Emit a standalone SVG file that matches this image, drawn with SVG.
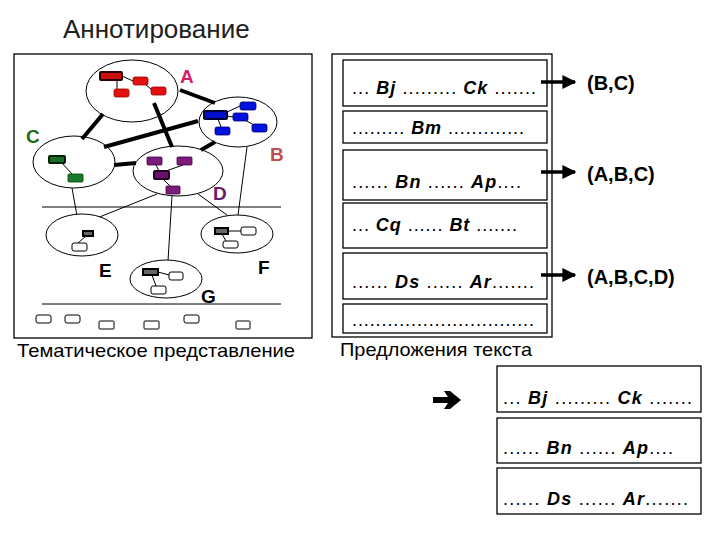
<svg xmlns="http://www.w3.org/2000/svg" width="720" height="540" viewBox="0 0 720 540">
<style>
text{font-family:"Liberation Sans",Arial,sans-serif}
.fr{fill:#fff;stroke:#000;stroke-width:1.3}
.el{fill:#fff;stroke:#000;stroke-width:1}
.thick{stroke:#000;stroke-width:4}
.thin{stroke:#000;stroke-width:1}
.r{fill:#e31010;stroke:#900;stroke-width:0.8}
.rb{fill:#c81010;stroke:#300;stroke-width:2}
.b{fill:#0010e0;stroke:#006;stroke-width:0.8}
.bb{fill:#0010c8;stroke:#003;stroke-width:2}
.g{fill:#1a7a2a;stroke:#040;stroke-width:0.8}
.gb{fill:#1a6a2a;stroke:#020;stroke-width:2}
.p{fill:#7a1a7a;stroke:#404;stroke-width:0.8}
.pb{fill:#6a106a;stroke:#202;stroke-width:2}
.gr{fill:#666;stroke:#000;stroke-width:2}
.w{fill:#fff;stroke:#000;stroke-width:1}
.lbl{font-size:19px;font-weight:bold}
.t{font-size:18px}
.t tspan.i{font-style:italic;font-weight:bold}
.res{font-size:20px;font-weight:bold}
</style>
<defs>
<marker id="ah" markerWidth="4" markerHeight="4" refX="3.6" refY="2" orient="auto" markerUnits="strokeWidth"><path d="M0,0 L4,2 L0,4 z" fill="#000"/></marker>
</defs>
<text x="63" y="38" font-size="26" fill="#202020">Аннотирование</text>

<g id="left-panel">
<rect class="fr" x="14" y="54" width="298" height="284"/>
<line class="thin" x1="42" y1="207" x2="281" y2="207"/>
<line class="thin" x1="42" y1="304" x2="281" y2="304"/>
<text x="17" y="357" font-size="19" textLength="278" lengthAdjust="spacingAndGlyphs">Тематическое представление</text>
</g>

<g id="connectors">
<line class="thin" x1="72" y1="188" x2="77" y2="216"/>
<line class="thin" x1="157" y1="194" x2="97" y2="218"/>
<line class="thin" x1="172" y1="196" x2="168" y2="261"/>
<line class="thin" x1="198" y1="194" x2="227" y2="215"/>
<line class="thin" x1="247" y1="147" x2="238" y2="215"/>
</g>

<g id="node-A"><ellipse class="el" cx="132" cy="91" rx="46" ry="31"/>
<line class="thin" x1="117" y1="80" x2="117" y2="89"/><line class="thin" x1="122" y1="76" x2="133" y2="81"/><line class="thin" x1="146" y1="85" x2="151" y2="89"/>
<rect class="rb" x="100" y="72" width="22" height="8" rx="1"/><rect class="r" x="133" y="77" width="15" height="8" rx="2"/><rect class="r" x="114" y="89" width="15" height="8" rx="2"/><rect class="r" x="151" y="87" width="15" height="8" rx="2"/>
<text class="lbl" x="180" y="83" fill="#d0206b">A</text></g>

<g id="node-B"><ellipse class="el" cx="238" cy="122" rx="39" ry="25"/>
<line class="thin" x1="227" y1="112" x2="240" y2="106"/><line class="thin" x1="227" y1="116" x2="233" y2="117"/><line class="thin" x1="218" y1="119" x2="221" y2="127"/><line class="thin" x1="245" y1="120" x2="254" y2="125"/>
<rect class="b" x="240" y="102" width="16" height="8" rx="2"/><rect class="bb" x="204" y="111" width="23" height="8" rx="1"/><rect class="b" x="233" y="113" width="15" height="8" rx="2"/><rect class="b" x="215" y="127" width="15" height="8" rx="2"/><rect class="b" x="252" y="124" width="15" height="8" rx="2"/>
<text class="lbl" x="270" y="161" fill="#c05050">B</text></g>

<g id="node-C"><ellipse class="el" cx="74" cy="162" rx="41" ry="26"/>
<line class="thin" x1="62" y1="163" x2="72" y2="174"/>
<rect class="gb" x="49" y="156" width="16" height="7" rx="1"/><rect class="g" x="68" y="174" width="15" height="8" rx="1"/>
<text class="lbl" x="26" y="143" fill="#1a6a1a">C</text></g>

<g id="node-D"><ellipse class="el" cx="178" cy="171" rx="45" ry="25"/>
<line class="thin" x1="156" y1="165" x2="159" y2="171"/><line class="thin" x1="183" y1="165" x2="166" y2="171"/><line class="thin" x1="163" y1="179" x2="170" y2="186"/>
<rect class="p" x="147" y="157" width="15" height="8" rx="1"/><rect class="p" x="177" y="157" width="15" height="8" rx="1"/><rect class="pb" x="154" y="171" width="15" height="8" rx="1"/><rect class="p" x="166" y="186" width="14" height="8" rx="1"/>
<text class="lbl" x="213" y="200" fill="#6a1a6a">D</text></g>

<g id="thick-links">
<line class="thick" x1="180" y1="90" x2="215" y2="103"/>
<line class="thick" x1="103" y1="114" x2="82" y2="139"/>
<line class="thick" x1="154" y1="103" x2="172" y2="147"/>
<line class="thick" x1="104" y1="147" x2="198" y2="121"/>
<line class="thick" x1="114" y1="165" x2="136" y2="163"/>
<line class="thick" x1="201" y1="150" x2="215" y2="142"/>
</g>

<g id="node-E"><ellipse class="el" cx="82" cy="235" rx="36" ry="21"/>
<line class="thin" x1="86" y1="236" x2="78" y2="243"/>
<rect class="gr" x="83" y="231" width="10" height="5"/><rect class="w" x="72" y="243" width="15" height="8" rx="2"/>
<text class="lbl" x="99" y="277">E</text></g>

<g id="node-F"><ellipse class="el" cx="237" cy="234" rx="36" ry="19"/>
<line class="thin" x1="228" y1="231" x2="241" y2="231"/><line class="thin" x1="222" y1="234" x2="226" y2="241"/>
<rect class="gr" x="215" y="228" width="13" height="6"/><rect class="w" x="241" y="227" width="15" height="8" rx="2"/><rect class="w" x="223" y="241" width="15" height="7" rx="2"/>
<text class="lbl" x="258" y="274">F</text></g>

<g id="node-G"><ellipse class="el" cx="166" cy="279" rx="36" ry="19"/>
<line class="thin" x1="158" y1="272" x2="169" y2="275"/><line class="thin" x1="152" y1="275" x2="156" y2="286"/>
<rect class="gr" x="143" y="269" width="15" height="6"/><rect class="w" x="169" y="272" width="14" height="8" rx="2"/><rect class="w" x="151" y="286" width="15" height="8" rx="2"/>
<text class="lbl" x="201" y="303">G</text></g>

<g id="free-items">
<rect class="w" x="36" y="315" width="15" height="8" rx="2"/><rect class="w" x="65" y="315" width="15" height="8" rx="2"/><rect class="w" x="99" y="321" width="15" height="8" rx="1"/><rect class="w" x="144" y="321" width="15" height="8" rx="1"/><rect class="w" x="184" y="315" width="15" height="8" rx="2"/><rect class="w" x="236" y="321" width="14" height="8" rx="1"/>
</g>

<g id="right-panel">
<rect class="fr" x="332" y="54" width="220" height="283"/>
<rect class="fr" x="343" y="60" width="204" height="46"/>
<rect class="fr" x="343" y="111" width="204" height="32"/>
<rect class="fr" x="343" y="150" width="204" height="50"/>
<rect class="fr" x="343" y="203" width="204" height="45"/>
<rect class="fr" x="343" y="253" width="204" height="46"/>
<rect class="fr" x="343" y="304" width="204" height="29"/>
<text class="t" x="352" y="94" textLength="184">... <tspan class="i">Bj</tspan> ......... <tspan class="i">Ck</tspan>  .......</text>
<text class="t" x="352" y="134" textLength="172">......... <tspan class="i">Bm</tspan> .............</text>
<text class="t" x="352" y="188" textLength="169">...... <tspan class="i">Bn</tspan>  ...... <tspan class="i">Ap</tspan>....</text>
<text class="t" x="352" y="231" textLength="165">... <tspan class="i">Cq</tspan> ...... <tspan class="i">Bt</tspan> .......</text>
<text class="t" x="352" y="288" textLength="182">...... <tspan class="i">Ds</tspan>  ...... <tspan class="i">Ar</tspan>.......</text>
<text class="t" x="352" y="326" textLength="182">...............................</text>
<text x="340" y="356" font-size="19" textLength="192" lengthAdjust="spacingAndGlyphs">Предложения текста</text>
</g>

<g id="result-arrows">
<line x1="541" y1="82" x2="575" y2="82" stroke="#000" stroke-width="3.5" marker-end="url(#ah)"/>
<line x1="541" y1="172" x2="575" y2="172" stroke="#000" stroke-width="3.5" marker-end="url(#ah)"/>
<line x1="541" y1="275" x2="575" y2="275" stroke="#000" stroke-width="3.5" marker-end="url(#ah)"/>
<text class="res" x="587" y="90">(B,C)</text>
<text class="res" x="587" y="181">(A,B,C)</text>
<text class="res" x="587" y="284">(A,B,C,D)</text>
</g>

<g id="result-panel">
<path d="M433,397 L448,397 L444,391 L450,391 L461,400 L450,409 L444,409 L448,403 L433,403 Z" fill="#000"/>
<rect class="fr" x="497" y="366" width="204" height="46"/>
<rect class="fr" x="497" y="418" width="204" height="45"/>
<rect class="fr" x="497" y="468" width="204" height="46"/>
<text class="t" x="503" y="404" textLength="189">... <tspan class="i">Bj</tspan> ......... <tspan class="i">Ck</tspan>  .......</text>
<text class="t" x="503" y="454" textLength="170">...... <tspan class="i">Bn</tspan>  ...... <tspan class="i">Ap</tspan>....</text>
<text class="t" x="503" y="505" textLength="185">...... <tspan class="i">Ds</tspan>  ...... <tspan class="i">Ar</tspan>.......</text>
</g>
</svg>
